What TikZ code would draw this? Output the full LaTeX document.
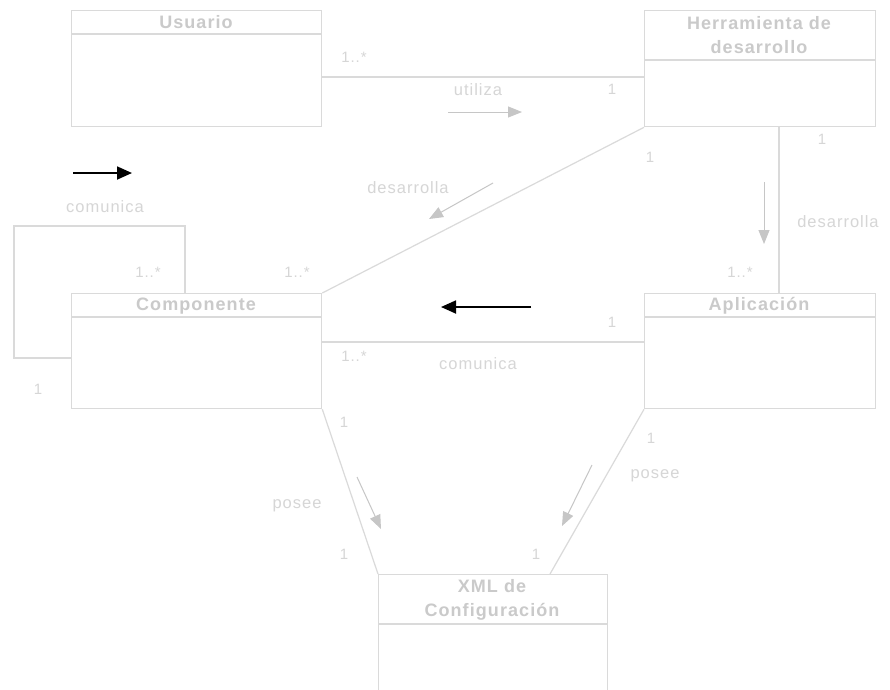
\documentclass[tikz,border=0pt]{standalone}
\usepackage{fontspec}
\setmainfont{Liberation Sans}
\newfontfamily\spacedfont[LetterSpace=6]{Liberation Sans}
\usetikzlibrary{arrows.meta,calc}
\definecolor{ln}{HTML}{DADADA}
\definecolor{tx}{HTML}{CACACA}
\definecolor{lb}{HTML}{D6D6D6}
\definecolor{ar}{HTML}{C6C6C6}
\begin{document}
\begin{tikzpicture}[x=1pt,y=-1pt,
  clsbox/.style={draw=ln,line width=1.3pt,anchor=north west,inner sep=0pt},
  ttl/.style={text=tx,font=\spacedfont\fontsize{18}{24}\selectfont\bfseries,align=center,inner sep=0pt},
  lbl/.style={text=lb,font=\spacedfont\fontsize{16.5}{20}\selectfont,inner sep=0pt},
  mul/.style={text=lb,font=\spacedfont\fontsize{15}{18}\selectfont,inner sep=0pt},
  assoc/.style={draw=ln,line width=1.2pt},
  dirarr/.style={draw=ar,line width=1pt,-{Triangle[length=14pt,width=11pt]}},
  blkarr/.style={draw=black,line width=1.8pt,-{Triangle[length=15pt,width=13pt]}}]
\useasboundingbox (0,0) rectangle (890,689);
\fill[white] (0,0) rectangle (890,689);

% class boxes
\node[clsbox,minimum width=250pt,minimum height=116pt] (usu) at (71,10) {};
\node[clsbox,minimum width=231pt,minimum height=116pt] (her) at (644,10) {};
\node[clsbox,minimum width=250pt,minimum height=115pt] (com) at (71,293) {};
\node[clsbox,minimum width=231pt,minimum height=115pt] (apl) at (644,293) {};
\node[clsbox,minimum width=229pt,minimum height=130pt] (xml) at (378,574) {};

\coordinate (d1) at (0,34);
\coordinate (d2) at (0,60);
\coordinate (d3) at (0,317);
\coordinate (d4) at (0,624);
\draw[assoc] (usu.west |- d1) -- (usu.east |- d1);
\draw[assoc] (her.west |- d2) -- (her.east |- d2);
\draw[assoc] (com.west |- d3) -- (com.east |- d3);
\draw[assoc] (apl.west |- d3) -- (apl.east |- d3);
\draw[assoc] (xml.west |- d4) -- (xml.east |- d4);

\node[ttl] (tusu) at (196,22) {Usuario};
\node[ttl] (ther) at (759,35) {Herramienta de\\desarrollo};
\node[ttl] (tcom) at (196,306) {Componente};
\node[ttl] (tapl) at (759,306) {Aplicación};
\node[ttl] (txml) at (492,600) {XML de\\Configuración};

% Usuario - Herramienta
\coordinate (y77) at (0,77);
\draw[assoc] (usu.east |- y77) -- (her.west |- y77);
\node[mul] (m1) at (354,57) {1..*};
\node[mul] (m2) at (612,89) {1};
\node[lbl] (l1) at (478,90) {utiliza};
\coordinate (a1s) at (448,112); \coordinate (a1e) at (522,112);
\draw[dirarr] (a1s) -- (a1e);

% black arrows
\coordinate (b1s) at (73,173); \coordinate (b1e) at (132,173);
\draw[blkarr] (b1s) -- (b1e);
\coordinate (b2s) at (531,307); \coordinate (b2e) at (441,307);
\draw[blkarr] (b2s) -- (b2e);

% self loop on Componente
\coordinate (sl1) at (185,226); \coordinate (sl2) at (14,226);
\coordinate (sl3) at (14,358);
\draw[assoc] (com.north west -| sl1) -- (sl1) -- (sl2) -- (sl3) -- (com.west |- sl3);
\node[lbl] (l2) at (105,207) {comunica};
\node[mul] (m3) at (148,272) {1..*};
\node[mul] (m4) at (38,389) {1};

% Herramienta - Componente
\draw[assoc] (her.south west) -- (com.north east);
\node[mul] (m5) at (297,272) {1..*};
\node[mul] (m6) at (650,157) {1};
\node[lbl] (l3) at (408,188) {desarrolla};
\coordinate (a2s) at (493,183); \coordinate (a2e) at (429,219);
\draw[dirarr] (a2s) -- (a2e);

% Herramienta - Aplicacion
\coordinate (x779) at (779,0);
\draw[assoc] (her.south -| x779) -- (apl.north -| x779);
\node[mul] (m7) at (822,139) {1};
\node[lbl] (l4) at (838,222) {desarrolla};
\coordinate (a3s) at (764,182); \coordinate (a3e) at (764,244);
\draw[dirarr] (a3s) -- (a3e);
\node[mul] (m8) at (740,272) {1..*};

% Componente - Aplicacion
\coordinate (y342) at (0,342);
\draw[assoc] (com.east |- y342) -- (apl.west |- y342);
\node[mul] (m9) at (612,322) {1};
\node[mul] (m10) at (354,356) {1..*};
\node[lbl] (l5) at (478,364) {comunica};

% Componente - XML
\draw[assoc] (com.south east) -- (xml.north west);
\node[mul] (m11) at (344,422) {1};
\node[lbl] (l6) at (297,506) {posee};
\coordinate (a4s) at (357,477); \coordinate (a4e) at (381,529);
\draw[dirarr] (a4s) -- (a4e);
\node[mul] (m12) at (344,554) {1};

% Aplicacion - XML
\coordinate (x550) at (550,0);
\draw[assoc] (apl.south west) -- (xml.north -| x550);
\node[mul] (m13) at (651,438) {1};
\node[lbl] (l7) at (655,476) {posee};
\coordinate (a5s) at (592,465); \coordinate (a5e) at (562,526);
\draw[dirarr] (a5s) -- (a5e);
\node[mul] (m14) at (536,554) {1};
\end{tikzpicture}
\end{document}
